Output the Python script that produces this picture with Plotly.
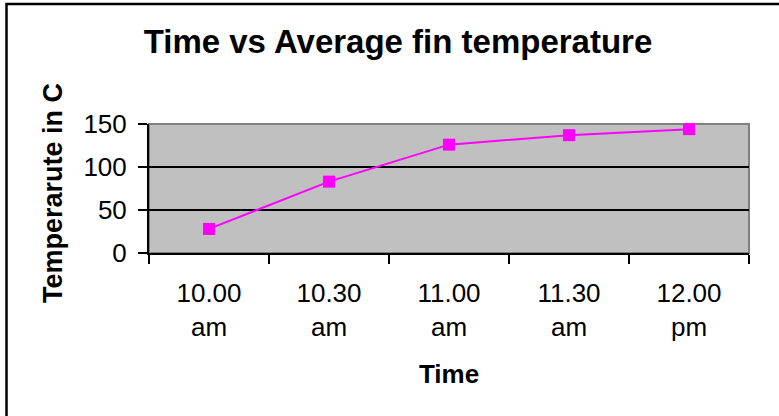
import plotly.graph_objects as go

categories = ["10.00<br>am", "10.30<br>am", "11.00<br>am", "11.30<br>am", "12.00<br>pm"]
temperature = [28, 83, 126, 137, 144]
y_ticks = [0, 50, 100, 150]

FONT = "Liberation Sans, Arial, sans-serif"

W, H = 779, 416
L, T = 149, 124
PW, PH = 600, 129

fig = go.Figure()
fig.add_trace(go.Scatter(
    x=categories, y=temperature, mode="lines+markers",
    line=dict(color="#FF00FF", width=2),
    marker=dict(symbol="square", size=12, color="#FF00FF", line=dict(width=0)),
    showlegend=False, cliponaxis=False,
))

fig.update_layout(
    width=W, height=H,
    margin=dict(l=L, r=W - L - PW, t=T, b=H - T - PH),
    paper_bgcolor="white", plot_bgcolor="#C0C0C0",
    font=dict(family=FONT, color="black"),
    title=dict(text="<b>Time vs Average fin temperature</b>", x=398 / W, xanchor="center",
               y=1 - 41 / H, yanchor="middle", yref="container",
               font=dict(size=33, family=FONT, color="black")),
    xaxis=dict(
        type="category", range=[-0.5, 4.5], tickson="boundaries",
        ticks="outside", ticklen=9, tickwidth=2, tickcolor="black",
        showline=True, linecolor="black", linewidth=2,
        showgrid=False, tickfont=dict(size=26, family=FONT), ticklabelstandoff=16,
        title=dict(text="<b>Time</b>", font=dict(size=26, family=FONT), standoff=24),
    ),
    yaxis=dict(
        range=[0, 150], tickvals=y_ticks, ticks="outside", ticklen=9, tickwidth=2,
        tickcolor="black", showline=True, linecolor="black", linewidth=2,
        showgrid=True, gridcolor="black", gridwidth=1.5, zeroline=False,
        tickfont=dict(size=26, family=FONT), ticklabelstandoff=6,
    ),
    annotations=[
        dict(text="<b>Temperarute in C</b>", textangle=-90, showarrow=False,
             xref="paper", yref="paper",
             x=(53 - L) / PW, y=1 - (193 - T) / PH, xanchor="center", yanchor="middle",
             font=dict(size=27, family=FONT, color="black")),
    ],
    shapes=[
        dict(type="rect", xref="paper", yref="paper", x0=0, x1=1, y0=0, y1=1,
             line=dict(color="#808080", width=2), layer="between"),
        dict(type="rect", xref="paper", yref="paper",
             x0=(6.5 - L) / PW, x1=(790 - L) / PW,
             y0=1 - (430 - T) / PH, y1=1 + (T - 4) / PH,
             line=dict(color="black", width=2.5), layer="above"),
    ],
)

fig.write_html(
    "out.html",
    config={"displayModeBar": False},
    post_script="document.body.style.margin='0';document.body.style.overflow='hidden';",
)
